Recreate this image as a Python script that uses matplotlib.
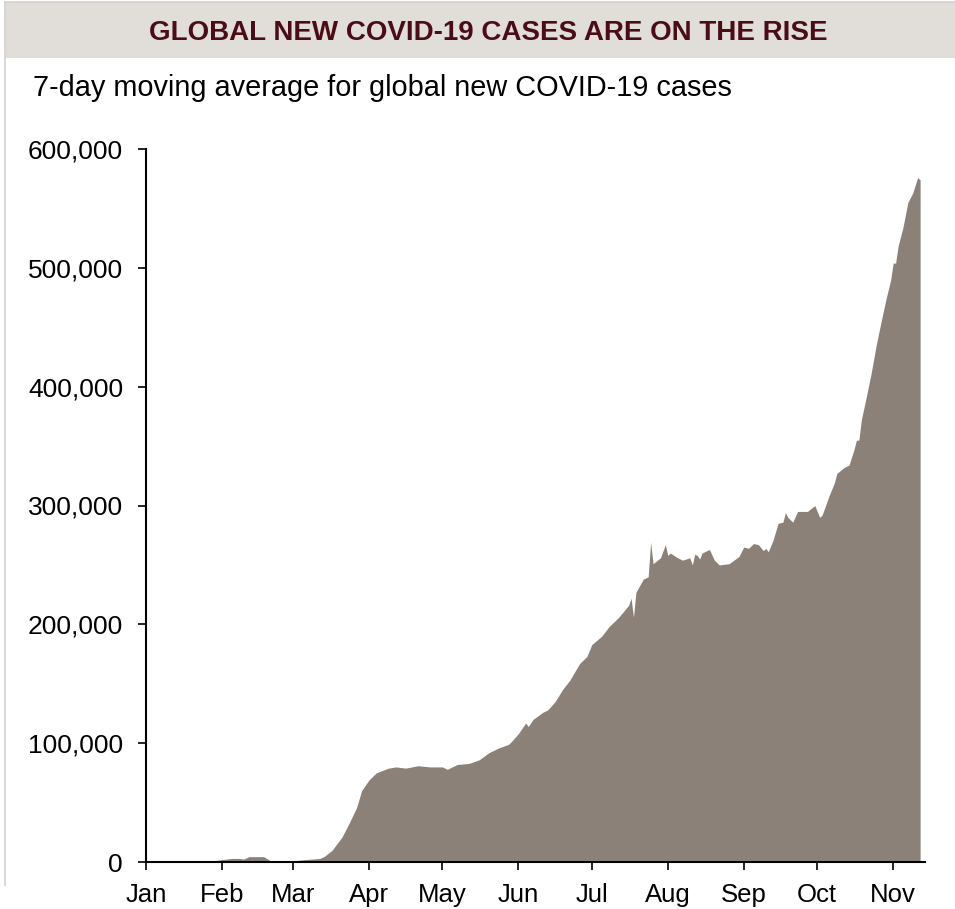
import pandas as pd
import matplotlib
matplotlib.use('Agg')
import matplotlib.pyplot as plt
import matplotlib.dates as mdates
from matplotlib.ticker import FuncFormatter
from matplotlib.patches import Rectangle
from matplotlib.lines import Line2D

plt.rcParams['font.family'] = ['Liberation Sans', 'DejaVu Sans']

title = 'GLOBAL NEW COVID-19 CASES ARE ON THE RISE'
subtitle = '7-day moving average for global new COVID-19 cases'

# dates (2020) and 7-day average of new cases, in thousands
dates = [
    '01-01', '01-25', '02-01', '02-05', '02-08', '02-10', '02-12', '02-18',
    '02-21', '02-25', '03-01', '03-06', '03-12', '03-14', '03-17', '03-21',
    '03-24', '03-27', '03-29', '04-01', '04-04', '04-09', '04-12', '04-16',
    '04-21', '04-26', '05-01', '05-03', '05-07', '05-12', '05-16', '05-20',
    '05-24', '05-28', '05-29', '06-01', '06-04', '06-05', '06-07', '06-11',
    '06-13', '06-16', '06-19', '06-22', '06-26', '06-29', '07-01', '07-05',
    '07-08', '07-12', '07-16', '07-17', '07-18', '07-19', '07-22', '07-24',
    '07-25', '07-26', '07-29', '07-31', '08-01', '08-02', '08-05', '08-07',
    '08-10', '08-11', '08-12', '08-13', '08-14', '08-15', '08-18', '08-20',
    '08-22', '08-26', '08-30', '09-01', '09-03', '09-05', '09-07', '09-09',
    '09-10', '09-11', '09-13', '09-15', '09-17', '09-18', '09-19', '09-21',
    '09-23', '09-27', '09-30', '10-02', '10-03', '10-06', '10-08', '10-09',
    '10-12', '10-14', '10-16', '10-17', '10-18', '10-19', '10-21', '10-23',
    '10-25', '10-27', '10-29', '10-31', '11-01', '11-02', '11-03', '11-05',
    '11-07', '11-09', '11-11', '11-12',
]
cases_k = [
    0, 0, 2, 3, 3, 2.5, 4.5, 4.5,
    0.8, 0.5, 1, 2, 3, 5, 10, 21,
    33, 46, 60, 69, 75, 79, 80, 79,
    81, 80, 80, 78, 82, 83, 86, 92,
    96, 99, 101, 108, 117, 114, 120, 126,
    128, 135, 145, 153, 167, 173, 183, 190,
    198, 206, 216, 222, 206, 227, 238, 240,
    269, 251, 256, 267, 258, 260, 256, 254,
    256, 250, 259, 258, 255, 260, 263, 254,
    250, 251, 257, 265, 264, 268, 267, 262,
    264, 261, 271, 285, 286, 294, 290, 286,
    295, 295, 300, 290, 292, 309, 319, 327,
    332, 334, 347, 355, 355, 372, 391, 411,
    434, 454, 473, 490, 504, 504, 518, 534,
    555, 563, 576, 574,
]

x = pd.to_datetime(['2020-' + d for d in dates])
y = [v * 1000 for v in cases_k]

W, H = 955, 909
fig = plt.figure(figsize=(W / 100, H / 100), dpi=100)

# header band and frame
fig.patches.append(Rectangle((5 / W, 1 - 58 / H), 1 - 5 / W, 56 / H,
                             transform=fig.transFigure,
                             facecolor='#e1ddd9', edgecolor='none'))
fig.lines.append(Line2D([5 / W, 5 / W], [1 - 2 / H, 1 - 885 / H],
                        transform=fig.transFigure, color='#d6d1cc', lw=1.2))
fig.lines.append(Line2D([5 / W, 1], [1 - 2 / H, 1 - 2 / H],
                        transform=fig.transFigure, color='#d6d1cc', lw=1.2))
fig.text(488 / W, 1 - 33 / H, title, ha='center', va='center',
         fontsize=20, fontweight='bold', color='#4a0d17')
fig.text(33 / W, 1 - 88 / H, subtitle, ha='left', va='center',
         fontsize=20.8, color='black')

ax = fig.add_axes([146 / W, 47 / H, (925 - 146) / W, 713 / H])
ax.fill_between(x, y, 0, color='#8c8179', linewidth=0)

ax.set_ylim(0, 600000)
ax.set_xlim(pd.Timestamp('2020-01-01'), pd.Timestamp('2020-11-14'))
ax.set_yticks(range(0, 600001, 100000))
ax.yaxis.set_major_formatter(FuncFormatter(lambda v, p: '{:,.0f}'.format(v)))
ax.xaxis.set_major_locator(mdates.MonthLocator())
ax.xaxis.set_major_formatter(mdates.DateFormatter('%b'))

for side in ['top', 'right']:
    ax.spines[side].set_visible(False)
for side in ['left', 'bottom']:
    ax.spines[side].set_linewidth(1.5)
    ax.spines[side].set_color('black')

ax.tick_params(axis='y', direction='out', length=5.5, width=1.2,
               labelsize=19, pad=11)
ax.tick_params(axis='x', direction='out', length=6, width=1.2,
               labelsize=18.5, pad=9)

fig.savefig('out.png', dpi=100)
